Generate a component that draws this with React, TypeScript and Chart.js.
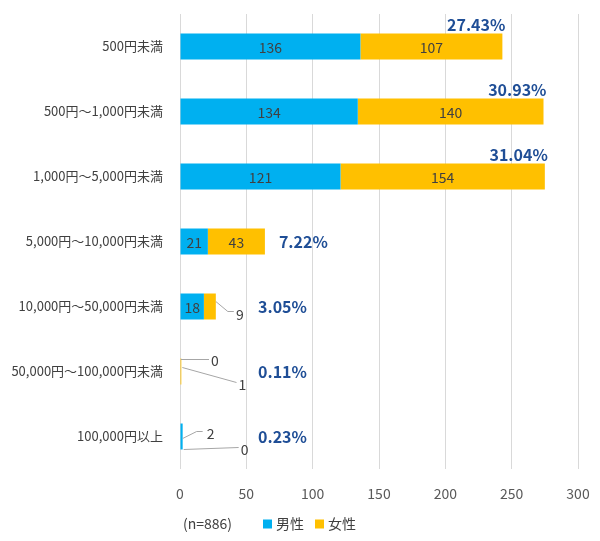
import React, { useEffect, useRef } from "react";
import { Chart, registerables } from "chart.js";

Chart.register(...registerables);

const categories = [
  "500円未満",
  "500円～1,000円未満",
  "1,000円～5,000円未満",
  "5,000円～10,000円未満",
  "10,000円～50,000円未満",
  "50,000円～100,000円未満",
  "100,000円以上",
];
const maleValues = [136, 134, 121, 21, 18, 0, 2];
const femaleValues = [107, 140, 154, 43, 9, 1, 0];
const shareLabels = ["27.43%", "30.93%", "31.04%", "7.22%", "3.05%", "0.11%", "0.23%"];
const xTicks = [0, 50, 100, 150, 200, 250, 300];
const seriesNames = ["男性", "女性"];
const sampleNote = "(n=886)";

const FONT = '"Noto Sans CJK JP", "Noto Sans", sans-serif';
const BLUE = "#00B0F0";
const GOLD = "#FFC000";
const TEXT = "#404040";
const PCT = "#1F4E96";
const LEADER = "#A6A6A6";

const labelPlugin = {
  id: "customLabels",
  afterDatasetsDraw(chart: any) {
    const ctx = chart.ctx as CanvasRenderingContext2D;
    const xScale = chart.scales.x;
    ctx.save();
    const n = chart.data.labels.length;
    for (let j = 0; j < n; j++) {
      const tiny: { bar: any; v: number }[] = [];
      for (let i = 0; i < 2; i++) {
        const bar = chart.getDatasetMeta(i).data[j];
        const v = chart.data.datasets[i].data[j] as number;
        const w = Math.abs(bar.x - bar.base);
        if (w >= 20) {
          ctx.font = `14px ${FONT}`;
          ctx.fillStyle = TEXT;
          ctx.textAlign = "center";
          ctx.textBaseline = "middle";
          ctx.fillText(String(v), (bar.x + bar.base) / 2, bar.y + 1);
        } else {
          tiny.push({ bar, v });
        }
      }
      ctx.strokeStyle = LEADER;
      ctx.lineWidth = 1;
      ctx.font = `14px ${FONT}`;
      ctx.fillStyle = TEXT;
      ctx.textAlign = "center";
      ctx.textBaseline = "middle";
      tiny.forEach((t, k) => {
        const b = t.bar;
        const cy = b.y;
        const top = cy - b.height / 2;
        const bottom = cy + b.height / 2;
        ctx.beginPath();
        if (tiny.length === 1) {
          ctx.moveTo(b.x, cy - 5);
          ctx.lineTo(b.x + 12, cy + 5);
          ctx.lineTo(b.x + 18, cy + 5);
          ctx.stroke();
          ctx.fillText(String(t.v), b.x + 24, cy + 8);
        } else if (k === 0) {
          if (t.v === 0) {
            ctx.moveTo(b.base + 1, top + 1);
            ctx.lineTo(b.base + 29, top + 1);
            ctx.stroke();
            ctx.fillText(String(t.v), b.base + 35, top + 2);
          } else {
            ctx.moveTo(b.x, cy + 2);
            ctx.lineTo(b.x + 14, cy - 5);
            ctx.lineTo(b.x + 20, cy - 5);
            ctx.stroke();
            ctx.fillText(String(t.v), b.x + 28, cy - 3);
          }
        } else {
          ctx.moveTo(b.x + 1, t.v === 0 ? bottom : cy - 4);
          ctx.lineTo(b.base + 56, cy + 11);
          ctx.stroke();
          ctx.fillText(String(t.v), b.base + 62, cy + 13);
        }
      });
      const topBar = chart.getDatasetMeta(1).data[j];
      const total = (maleValues[j] || 0) + (femaleValues[j] || 0);
      ctx.font = `bold 16px ${FONT}`;
      ctx.fillStyle = PCT;
      if (total >= xScale.max / 2) {
        ctx.textAlign = "right";
        ctx.textBaseline = "bottom";
        ctx.fillText(shareLabels[j], topBar.x + 3, topBar.y - topBar.height / 2 - 1);
      } else {
        ctx.textAlign = "left";
        ctx.textBaseline = "middle";
        const x = Math.max(topBar.x + 14, xScale.getPixelForValue(0) + 78);
        ctx.fillText(shareLabels[j], x, topBar.y);
      }
    }
    const left = chart.chartArea.left;
    const ly = 516;
    ctx.font = `14px ${FONT}`;
    ctx.fillStyle = TEXT;
    ctx.textAlign = "left";
    ctx.textBaseline = "middle";
    ctx.fillText(sampleNote, left + 3, ly);
    const items = [
      { x: left + 83, color: BLUE, text: seriesNames[0] },
      { x: left + 135, color: GOLD, text: seriesNames[1] },
    ];
    items.forEach((it) => {
      ctx.fillStyle = it.color;
      ctx.fillRect(it.x, ly - 4.5, 9, 9);
      ctx.fillStyle = TEXT;
      ctx.fillText(it.text, it.x + 13, ly);
    });
    ctx.restore();
  },
};

export default function App() {
  const ref = useRef<HTMLCanvasElement | null>(null);
  useEffect(() => {
    if (!ref.current) return;
    const chart = new Chart(ref.current, {
      type: "bar",
      data: {
        labels: categories,
        datasets: [
          { label: seriesNames[0], data: maleValues, backgroundColor: BLUE, barPercentage: 0.4, categoryPercentage: 1 },
          { label: seriesNames[1], data: femaleValues, backgroundColor: GOLD, barPercentage: 0.4, categoryPercentage: 1 },
        ],
      },
      options: {
        indexAxis: "y",
        animation: false,
        responsive: true,
        maintainAspectRatio: false,
        layout: { padding: { top: 6, right: 14, bottom: 30, left: 0 } },
        plugins: { legend: { display: false }, tooltip: { enabled: false } },
        scales: {
          x: {
            stacked: true,
            min: 0,
            max: 300,
            afterBuildTicks: (s: any) => {
              s.ticks = xTicks.map((v) => ({ value: v }));
            },
            afterFit: (s: any) => {
              s.height = 34;
              s.paddingLeft = 0;
              s.paddingRight = 0;
            },
            grid: { color: "#D9D9D9", drawTicks: false },
            border: { display: false },
            ticks: { padding: 16, color: "#595959", font: { family: FONT, size: 14 } },
          },
          y: {
            stacked: true,
            afterFit: (s: any) => {
              s.width = 172;
              s.paddingTop = 0;
              s.paddingBottom = 0;
            },
            grid: { display: false, drawTicks: false },
            border: { display: false },
            ticks: { padding: 17, color: TEXT, font: { family: FONT, size: 13 } },
          },
        },
      },
      plugins: [labelPlugin],
    });
    return () => chart.destroy();
  }, []);
  return (
    <div style={{ position: "relative", width: "100%", height: "525px" }}>
      <canvas ref={ref} />
    </div>
  );
}
